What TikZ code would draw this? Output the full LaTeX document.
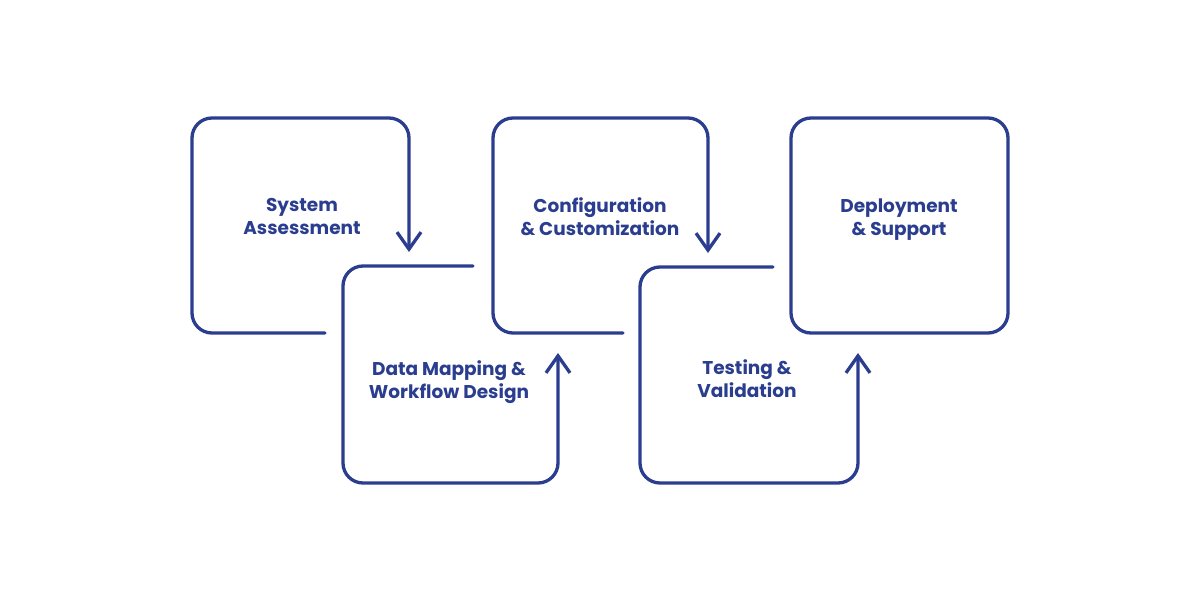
\documentclass[tikz,border=0pt]{standalone}
\usepackage{fontspec}
\setmainfont{Poppins}
\usetikzlibrary{arrows.meta}
\definecolor{ink}{RGB}{42,61,143}
\tikzset{
  flow/.style={draw=ink, line width=3.3pt, rounded corners=20pt, line cap=round, line join=round},
  tipped/.style={flow, -{Straight Barb[length=17pt,width=24pt,line width=3.3pt]}},
  label/.style={text=ink, font=\bfseries\fontsize{18.5}{23}\selectfont, align=center}
}
\begin{document}
\begin{tikzpicture}[x=1pt,y=-1pt]
\useasboundingbox[fill=white] (0,0) rectangle (1200,600);
% box 1
\coordinate (a1) at (325,333); \coordinate (a2) at (192,333); \coordinate (a3) at (192,118);
\coordinate (a4) at (409,118); \coordinate (a5) at (409,252);
\draw[tipped] (a1) -- (a2) -- (a3) -- (a4) -- (a5);
% box 2
\coordinate (b1) at (473,266); \coordinate (b2) at (343,266); \coordinate (b3) at (343,483);
\coordinate (b4) at (558,483); \coordinate (b5) at (558,353);
\draw[tipped] (b1) -- (b2) -- (b3) -- (b4) -- (b5);
% box 3
\coordinate (c1) at (623,333); \coordinate (c2) at (493,333); \coordinate (c3) at (493,118);
\coordinate (c4) at (708,118); \coordinate (c5) at (708,253);
\draw[tipped] (c1) -- (c2) -- (c3) -- (c4) -- (c5);
% box 4
\coordinate (d1) at (773,267); \coordinate (d2) at (640,267); \coordinate (d3) at (640,483);
\coordinate (d4) at (858,483); \coordinate (d5) at (858,353);
\draw[tipped] (d1) -- (d2) -- (d3) -- (d4) -- (d5);
% box 5
\coordinate (e1) at (791,118); \coordinate (e2) at (1008,333);
\draw[flow] (e1) rectangle (e2);
% labels
\node[label] (t1) at (302,216) {System\\Assessment};
\node[label] (t2) at (449,382) {Data Mapping \&\\Workflow Design};
\node[label] (t3) at (600,217) {Configuration\\\& Customization};
\node[label] (t4) at (747,379) {Testing \&\\Validation};
\node[label] (t5) at (899,219.5) {Deployment\\\& Support};
\end{tikzpicture}
\end{document}
